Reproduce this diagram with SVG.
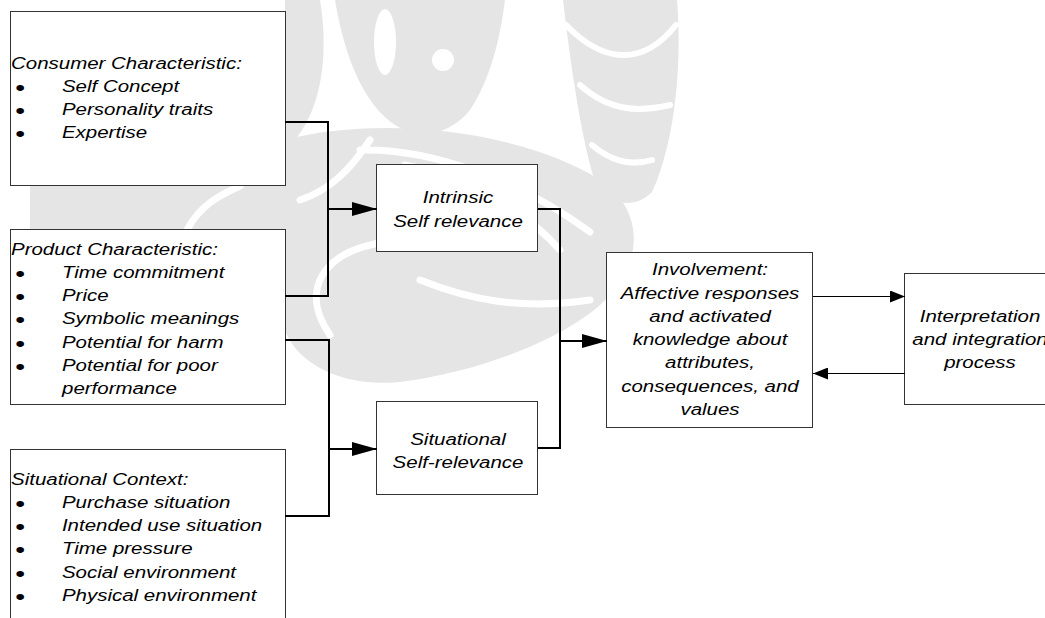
<svg xmlns="http://www.w3.org/2000/svg" width="1045" height="618" viewBox="0 0 1045 618">
<style>
.t{font-family:"Liberation Sans",Arial,sans-serif;font-style:italic;font-size:16px;fill:#000}
.m{text-anchor:middle}
.b{font-style:normal;font-size:22px}
.box{fill:#fff;stroke:#333;stroke-width:1}
.k{fill:none;stroke:#000;stroke-width:2}
.thin{fill:none;stroke:#000;stroke-width:1}
.wm{fill:#e5e5e5}
.wl{fill:none;stroke:#fff;stroke-linecap:round}
</style>
<defs>
<marker id="ah" markerUnits="userSpaceOnUse" markerWidth="25" markerHeight="14" refX="25" refY="7" orient="auto"><path d="M0,0 L25,7 L0,14 Z" fill="#000"/></marker>
<marker id="as" markerUnits="userSpaceOnUse" markerWidth="15" markerHeight="12" refX="15" refY="6" orient="auto"><path d="M0,0 L15,6 L0,12 Z" fill="#000"/></marker>
</defs>
<rect width="1045" height="618" fill="#fff"/>
<g id="watermark">
<path class="wm" d="M285,0 H505 C500,40 490,80 470,110 C450,135 420,140 395,125 C365,105 345,60 335,0 H320 C330,60 320,120 285,150 Z"/>
<ellipse cx="385" cy="42" rx="11" ry="33" fill="#fff"/>
<circle cx="443" cy="60" r="11" fill="#fff"/>
<path class="wm" d="M563,0 H677 C682,60 676,140 652,192 C632,212 602,204 592,172 C580,130 570,60 563,0 Z"/>
<path class="wl" stroke-width="6" d="M566,25 C600,60 640,70 676,25 M580,85 C610,112 640,112 670,105 M592,145 C612,162 632,166 652,160"/>
<path class="wm" d="M285,140 C380,115 520,130 600,180 C645,210 645,265 600,305 C560,340 480,372 400,382 C340,388 292,362 282,322 Z"/>
<path class="wm" d="M30,186 H285 V230 H30 Z"/>
<path class="wl" stroke-width="7" d="M360,150 C430,148 520,180 590,232 M405,165 C460,175 520,205 560,250 M330,335 C300,292 320,252 385,242 M187,230 C200,205 220,195 240,186 M300,200 C330,190 350,170 370,140 M420,280 C470,300 520,310 590,300"/>
</g>
<g id="consumer">
<rect class="box" x="10.5" y="11.5" width="275" height="174"/>
<text class="t" transform="translate(11,69) scale(1.28,1)">Consumer Characteristic:</text>
<text class="t" transform="translate(0,92) scale(1.28,1)"><tspan class="b" x="12" dy="3">•</tspan><tspan x="48.4" dy="-3">Self Concept</tspan></text>
<text class="t" transform="translate(0,115) scale(1.28,1)"><tspan class="b" x="12" dy="3">•</tspan><tspan x="48.4" dy="-3">Personality traits</tspan></text>
<text class="t" transform="translate(0,138) scale(1.28,1)"><tspan class="b" x="12" dy="3">•</tspan><tspan x="48.4" dy="-3">Expertise</tspan></text>
</g>
<g id="product">
<rect class="box" x="10.5" y="229.5" width="275" height="175"/>
<text class="t" transform="translate(11,255) scale(1.28,1)">Product Characteristic:</text>
<text class="t" transform="translate(0,278) scale(1.28,1)"><tspan class="b" x="12" dy="3">•</tspan><tspan x="48.4" dy="-3">Time commitment</tspan></text>
<text class="t" transform="translate(0,301) scale(1.28,1)"><tspan class="b" x="12" dy="3">•</tspan><tspan x="48.4" dy="-3">Price</tspan></text>
<text class="t" transform="translate(0,324) scale(1.28,1)"><tspan class="b" x="12" dy="3">•</tspan><tspan x="48.4" dy="-3">Symbolic meanings</tspan></text>
<text class="t" transform="translate(0,348) scale(1.28,1)"><tspan class="b" x="12" dy="3">•</tspan><tspan x="48.4" dy="-3">Potential for harm</tspan></text>
<text class="t" transform="translate(0,371) scale(1.28,1)"><tspan class="b" x="12" dy="3">•</tspan><tspan x="48.4" dy="-3">Potential for poor</tspan></text>
<text class="t" transform="translate(62,394) scale(1.28,1)">performance</text>
</g>
<g id="situational-context">
<rect class="box" x="10.5" y="449.5" width="275" height="200"/>
<text class="t" transform="translate(11,485) scale(1.28,1)">Situational Context:</text>
<text class="t" transform="translate(0,508) scale(1.28,1)"><tspan class="b" x="12" dy="3">•</tspan><tspan x="48.4" dy="-3">Purchase situation</tspan></text>
<text class="t" transform="translate(0,531) scale(1.28,1)"><tspan class="b" x="12" dy="3">•</tspan><tspan x="48.4" dy="-3">Intended use situation</tspan></text>
<text class="t" transform="translate(0,554) scale(1.28,1)"><tspan class="b" x="12" dy="3">•</tspan><tspan x="48.4" dy="-3">Time pressure</tspan></text>
<text class="t" transform="translate(0,578) scale(1.28,1)"><tspan class="b" x="12" dy="3">•</tspan><tspan x="48.4" dy="-3">Social environment</tspan></text>
<text class="t" transform="translate(0,601) scale(1.28,1)"><tspan class="b" x="12" dy="3">•</tspan><tspan x="48.4" dy="-3">Physical environment</tspan></text>
</g>
<g id="intrinsic">
<rect class="box" x="376.5" y="164.5" width="161" height="87"/>
<text class="t m" transform="translate(458,203) scale(1.28,1)">Intrinsic</text>
<text class="t m" transform="translate(458,227) scale(1.28,1)">Self relevance</text>
</g>
<g id="situational">
<rect class="box" x="376.5" y="401.5" width="161" height="93"/>
<text class="t m" transform="translate(458,445) scale(1.28,1)">Situational</text>
<text class="t m" transform="translate(458,468) scale(1.28,1)">Self-relevance</text>
</g>
<g id="involvement">
<rect class="box" x="606.5" y="252.5" width="206" height="175"/>
<text class="t m" transform="translate(710,275) scale(1.28,1)">Involvement:</text>
<text class="t m" transform="translate(710,298.5) scale(1.28,1)">Affective responses</text>
<text class="t m" transform="translate(710,322) scale(1.28,1)">and activated</text>
<text class="t m" transform="translate(710,345) scale(1.28,1)">knowledge about</text>
<text class="t m" transform="translate(710,368) scale(1.28,1)">attributes,</text>
<text class="t m" transform="translate(710,391.5) scale(1.28,1)">consequences, and</text>
<text class="t m" transform="translate(710,415) scale(1.28,1)">values</text>
</g>
<g id="interpretation">
<rect class="box" x="904.5" y="273.5" width="160" height="131"/>
<text class="t m" transform="translate(980,322) scale(1.28,1)">Interpretation</text>
<text class="t m" transform="translate(980,345) scale(1.28,1)">and integration</text>
<text class="t m" transform="translate(980,368) scale(1.28,1)">process</text>
</g>
<g id="connectors">
<path class="k" d="M285,122 H328 V296 H285"/>
<path class="k" d="M328,209 H377" marker-end="url(#ah)"/>
<path class="k" d="M285,340 H329 V516 H285"/>
<path class="k" d="M329,449 H377" marker-end="url(#ah)"/>
<path class="k" d="M538,209 H560 V448 H538"/>
<path class="k" d="M560,341 H607" marker-end="url(#ah)"/>
<path class="thin" d="M813,296.5 H905" marker-end="url(#as)"/>
<path class="thin" d="M905,373.5 H813" marker-end="url(#as)"/>
</g>
</svg>
